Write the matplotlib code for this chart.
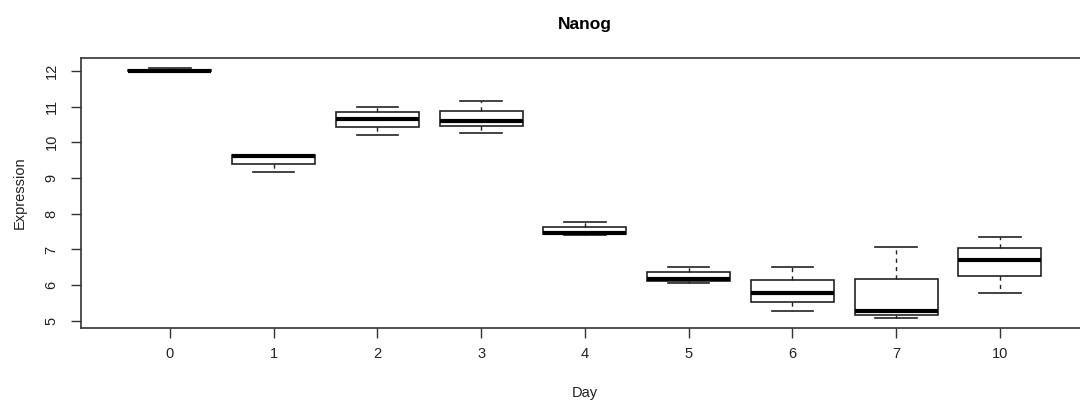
import matplotlib.pyplot as plt

plt.rcParams['font.family'] = ['Liberation Sans', 'DejaVu Sans']

# ---------- data ----------
days = ['0', '1', '2', '3', '4', '5', '6', '7', '10']
whislo = [11.98, 9.16, 10.21, 10.26, 7.40, 6.07, 5.29, 5.09, 5.78]
q1 = [11.99, 9.40, 10.42, 10.45, 7.42, 6.13, 5.54, 5.16, 6.26]
med = [12.00, 9.61, 10.64, 10.61, 7.46, 6.17, 5.78, 5.27, 6.71]
q3 = [12.02, 9.64, 10.84, 10.88, 7.63, 6.37, 6.15, 6.17, 7.03]
whishi = [12.08, 9.65, 11.00, 11.16, 7.77, 6.52, 6.52, 7.07, 7.34]

stats = [dict(label=d, whislo=a, q1=b, med=c, q3=e, whishi=f, fliers=[])
         for d, a, b, c, e, f in zip(days, whislo, q1, med, q3, whishi)]

fig = plt.figure(figsize=(10.8, 4.03), dpi=100)
ax = fig.add_axes([0.0748, 0.187, 0.9335, 0.669])

pos = list(range(1, len(days) + 1))
ax.bxp(stats, positions=pos, widths=0.8, patch_artist=True, showfliers=False,
       boxprops=dict(facecolor='white', edgecolor='#222222', linewidth=1.2),
       medianprops=dict(color='black', linewidth=3, solid_capstyle='butt'),
       whiskerprops=dict(color='#222222', linewidth=1.0, linestyle=(0, (3, 3))),
       capprops=dict(color='#222222', linewidth=1.2),
       capwidths=0.4)

# R-style axis ranges (4% padding)
lo, hi = min(whislo), max(whishi)
pad = (hi - lo) * 0.04
ax.set_ylim(lo - pad, hi + pad)
ax.set_xlim(0.5 - 0.36, len(days) + 0.5 + 0.36)

ax.set_xticks(pos)
ax.set_xticklabels(days)
ax.set_yticks([5, 6, 7, 8, 9, 10, 11, 12])
ax.set_yticklabels(['5', '6', '7', '8', '9', '10', '11', '12'],
                   rotation=90, va='center')
ax.tick_params(axis='both', length=7, width=1, color='#333333',
               labelsize=10.5, labelcolor='#222222')
ax.tick_params(axis='x', pad=7)
ax.tick_params(axis='y', pad=9)

for s in ax.spines.values():
    s.set_linewidth(1.2)
    s.set_color('#333333')

ax.set_xlabel('Day', fontsize=10.5, color='#222222', labelpad=18)
ax.set_ylabel('Expression', fontsize=10.5, color='#222222', labelpad=13)
ax.set_title('Nanog', fontsize=12.5, fontweight='bold', pad=21)

fig.savefig('out.png', dpi=100)
